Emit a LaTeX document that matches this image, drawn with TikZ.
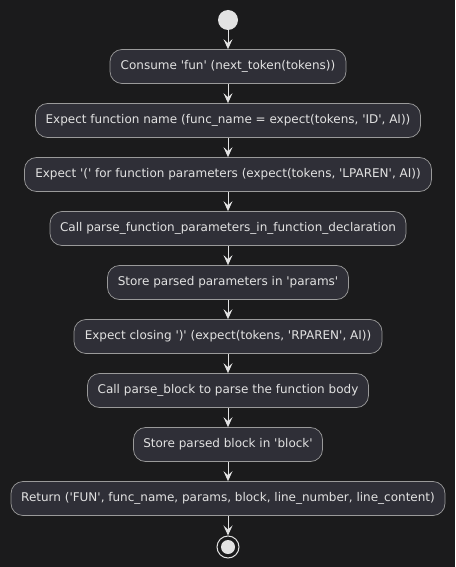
\documentclass[tikz,border=0pt]{standalone}
\usepackage{fontspec}
\newfontfamily\actfont{DejaVu Sans}
\usetikzlibrary{arrows.meta}
\definecolor{bg}{HTML}{1B1B1C}
\definecolor{boxfill}{HTML}{2F2F37}
\definecolor{boxline}{HTML}{9A9A9A}
\definecolor{fg}{HTML}{E2E2E2}
\tikzset{
  act/.style={draw=boxline, fill=boxfill, text=fg, rounded corners=12pt,
    minimum height=34pt, inner xsep=0pt, line width=0.7pt,
    font=\actfont\fontsize{12}{14}\selectfont},
  flow/.style={draw=fg, line width=1pt, -{Stealth[length=10pt,width=9pt,inset=4pt]}}
}
\begin{document}
\begin{tikzpicture}[x=1pt,y=-1pt]
          \fill[bg] (0,0) rectangle (455,567);
          \useasboundingbox (0,0) rectangle (455,567);
          \node[circle, fill=fg, minimum size=20pt, inner sep=0pt] (start) at (228,20) {};
          \node[act, minimum width=236pt] (consume) at (228,66.5) {Consume 'fun' (next\_token(tokens))};
          \node[act, minimum width=385pt] (name) at (228,120.5) {Expect function name (func\_name = expect(tokens, 'ID', AI))};
          \node[act, minimum width=407pt] (lparen) at (228,174.5) {Expect '(' for function parameters (expect(tokens, 'LPAREN', AI))};
          \node[act, minimum width=356pt] (callparams) at (228,228.5) {Call parse\_function\_parameters\_in\_function\_declaration};
          \node[act, minimum width=241pt] (storeparams) at (228,282.5) {Store parsed parameters in 'params'};
          \node[act, minimum width=308pt] (rparen) at (228,336.5) {Expect closing ')' (expect(tokens, 'RPAREN', AI))};
          \node[act, minimum width=281pt] (callblock) at (228,390.5) {Call parse\_block to parse the function body};
          \node[act, minimum width=189pt] (storeblock) at (228,444.5) {Store parsed block in 'block'};
          \node[act, minimum width=434pt] (return) at (228,498.5) {Return ('FUN', func\_name, params, block, line\_number, line\_content)};
          \node[circle, draw=fg, line width=1pt, minimum size=22pt, inner sep=0pt] (stop) at (228,547) {};
          \fill[fg] (stop) circle (7pt);
          \draw[flow] (start) -- (consume);
          \draw[flow] (consume) -- (name);
          \draw[flow] (name) -- (lparen);
          \draw[flow] (lparen) -- (callparams);
          \draw[flow] (callparams) -- (storeparams);
          \draw[flow] (storeparams) -- (rparen);
          \draw[flow] (rparen) -- (callblock);
          \draw[flow] (callblock) -- (storeblock);
          \draw[flow] (storeblock) -- (return);
          \draw[flow] (return) -- (stop);
\end{tikzpicture}
\end{document}
